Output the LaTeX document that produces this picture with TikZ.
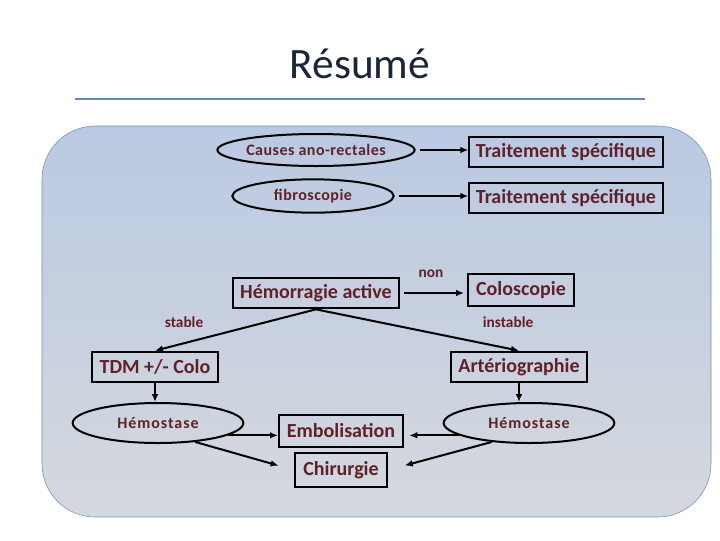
\documentclass[tikz,border=0pt]{standalone}
\usepackage{fontspec}
\setmainfont{Carlito}
\usetikzlibrary{shapes.geometric,arrows.meta}
\definecolor{txtred}{RGB}{96,34,40}
\definecolor{panelTop}{RGB}{186,201,226}
\definecolor{panelBot}{RGB}{213,216,222}
\definecolor{panelLine}{RGB}{112,142,184}
\definecolor{titleBlue}{RGB}{96,134,190}
\definecolor{titleInk}{RGB}{26,38,56}

\begin{document}
\begin{tikzpicture}[x=0.75pt, y=-0.75pt, >={Latex[length=6pt,width=5pt]},
  box/.style={draw, line width=1.5pt, rectangle, inner sep=0pt, text=txtred,
    font=\bfseries\fontsize{15}{18}\selectfont},
  oval/.style={draw, line width=1.5pt, ellipse, inner sep=0pt, text=txtred,
    font=\bfseries\fontsize{12}{14}\selectfont\addfontfeature{LetterSpace=3}},
  lbl/.style={text=txtred, font=\bfseries\fontsize{11.5}{13}\selectfont},
  arr/.style={->, line width=1.5pt}]
  % === Page ===
  \fill[white] (0,0) rectangle (720,540);
  \useasboundingbox (0,0) rectangle (720,540);
  \node[anchor=base, text=titleInk, font=\fontsize{32.5}{38}\selectfont] (title) at (360,78) {Résumé};
  \draw[titleBlue, line width=1.5pt] (75,99) -- (645,99);
  \shade[top color=panelTop, bottom color=panelBot, draw=panelLine, rounded corners=40pt]
    (42,126) rectangle (711,517);
  % === Haut : causes et fibroscopie ===
  \node[oval, minimum width=124pt, minimum height=24pt] (causes) at (316,150) {Causes ano-rectales};
  \node[oval, minimum width=121pt, minimum height=25pt] (fibro) at (313,196) {fibroscopie};
  \node[box, minimum width=145pt, minimum height=22pt] (trait1) at (566,152) {Traitement spécifique};
  \node[box, minimum width=145pt, minimum height=22pt] (trait2) at (566,198) {Traitement spécifique};
  \draw[arr, shorten <=3pt] (causes.east) -- (trait1.west |- causes.east);
  \draw[arr, shorten <=3pt] (fibro.east) -- (trait2.west |- fibro.east);
  % === Hemorragie active ===
  \node[box, minimum width=125pt, minimum height=23pt] (hemo) at (316,293) {Hémorragie active};
  \node[box, minimum width=80pt, minimum height=24pt] (colo) at (521,290) {Coloscopie};
  \node[lbl] (non) at (431,274) {non};
  \draw[arr, shorten <=3pt, shorten >=2pt] (hemo.east) -- (colo.west |- hemo.east);
  % === stable / instable ===
  \node[lbl] (stable) at (184,322) {stable};
  \node[lbl] (instable) at (508,322) {instable};
  \node[box, minimum width=95pt, minimum height=23pt] (tdm) at (155,367) {TDM +/- Colo};
  \node[box, minimum width=102pt, minimum height=23pt] (arterio) at (519,367) {Artériographie};
  \draw[arr] (hemo.south) -- (tdm.north);
  \draw[arr] (hemo.south) -- (arterio.north);
  % === Hemostase ===
  \node[oval, minimum width=128pt, minimum height=30pt, font=\bfseries\fontsize{12}{14}\selectfont\addfontfeature{LetterSpace=6}]
    (hemoL) at (158,423) {Hémostase};
  \node[oval, minimum width=128pt, minimum height=30pt, font=\bfseries\fontsize{12}{14}\selectfont\addfontfeature{LetterSpace=6}]
    (hemoR) at (529,423) {Hémostase};
  \draw[arr] (tdm.south) -- (tdm.south |- hemoL.north);
  \draw[arr] (arterio.south) -- (arterio.south |- hemoR.north);
  % === Embolisation / Chirurgie ===
  \node[box, minimum width=93pt, minimum height=24pt] (embol) at (341,431) {Embolisation};
  \node[box, minimum width=69pt, minimum height=25pt] (chir) at (341,470) {Chirurgie};
  \draw[arr] (hemoL.-10) -- (embol.west |- hemoL.-10);
  \draw[arr, shorten >=12pt] (hemoL.-27) -- (chir.west);
  \draw[arr, shorten >=4pt] (hemoR.190) -- (embol.east |- hemoR.190);
  \draw[arr, shorten >=13pt] (hemoR.207) -- (chir.east);
\end{tikzpicture}
\end{document}
